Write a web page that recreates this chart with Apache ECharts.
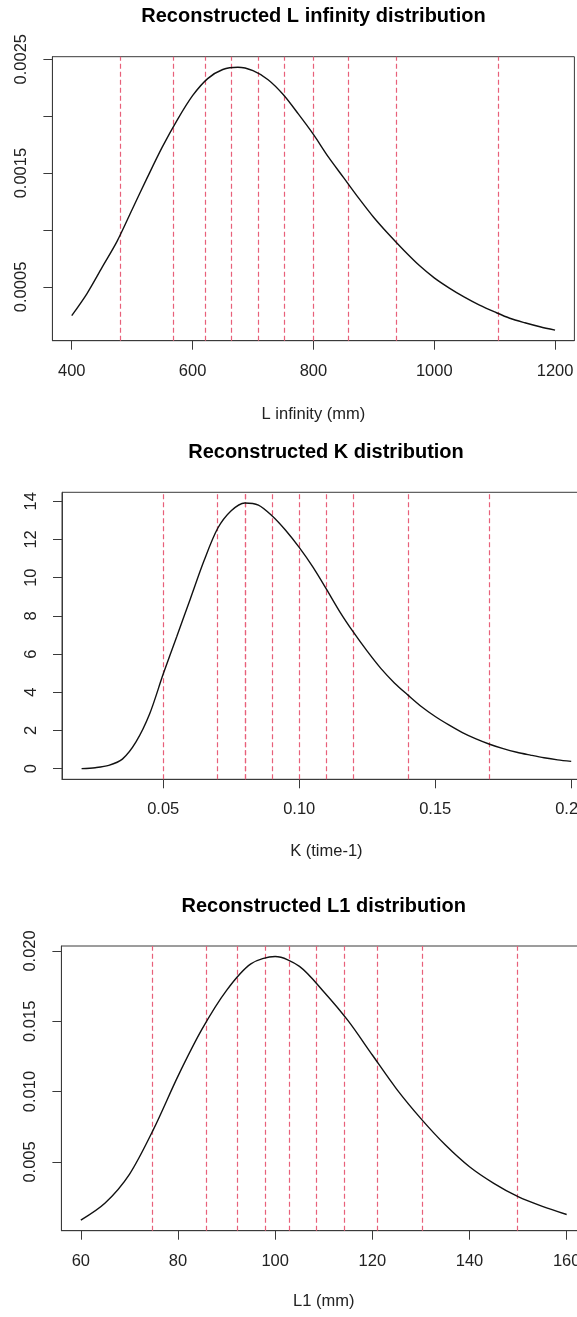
<!DOCTYPE html>
<html>
<head>
<meta charset="utf-8">
<script src="https://cdn.jsdelivr.net/npm/echarts@6/dist/echarts.min.js"></script>
<style>
html,body{margin:0;padding:0;background:#fff;}
#chart{width:577px;height:1317px;}
</style>
</head>
<body>
<div id="chart"></div>
<script>
// ---------- Panel 1: L infinity ----------
const linfTitle = 'Reconstructed L infinity distribution';
const linfAxisName = 'L infinity (mm)';
const linfX = [400,425,450,475,500,525,550,575,600,625,650,675,700,725,750,775,800,825,850,875,900,925,950,975,1000,1025,1050,1075,1100,1125,1150,1175,1200];
const linfY = [0.000248,0.00044,0.00067,0.00090,0.00118,0.00146,0.00173,0.00197,0.00218,0.00233,0.00241,0.00243,0.00240,0.00232,0.00219,0.00202,0.00184,0.00164,0.00146,0.00128,0.00111,0.00096,0.00082,0.00069,0.00058,0.00049,0.00041,0.00034,0.00028,0.000225,0.000185,0.00015,0.00012];
const linfLines = [480.8,567.6,620.4,664.1,708.3,752.2,799.3,857.7,936.9,1105.3];
const linfXTicks = [400,600,800,1000,1200];
const linfYTicks = [0.0005,0.0010,0.0015,0.0020,0.0025];
const linfYLabels = [0.0005,0.0015,0.0025];

// ---------- Panel 2: K ----------
const kTitle = 'Reconstructed K distribution';
const kAxisName = 'K (time-1)';
const kX = [0.020,0.025,0.030,0.035,0.040,0.045,0.050,0.055,0.060,0.065,0.070,0.075,0.080,0.085,0.090,0.095,0.100,0.105,0.110,0.115,0.120,0.125,0.130,0.135,0.140,0.145,0.150,0.155,0.160,0.165,0.170,0.175,0.180,0.185,0.190,0.195,0.200];
const kY = [0.00,0.05,0.17,0.50,1.40,2.86,4.95,6.92,8.9,10.88,12.57,13.5,13.91,13.8,13.24,12.48,11.58,10.56,9.40,8.20,7.13,6.15,5.25,4.49,3.85,3.24,2.73,2.29,1.89,1.56,1.28,1.05,0.86,0.71,0.57,0.46,0.38];
const kLines = [0.0544,0.0680,0.0771,0.0848,0.0926,0.1006,0.1096,0.1202,0.1364,0.1716];
const kXTicks = [0.05,0.10,0.15,0.20];
const kYTicks = [0,2,4,6,8,10,12,14];

// ---------- Panel 3: L1 ----------
const l1Title = 'Reconstructed L1 distribution';
const l1AxisName = 'L1 (mm)';
const l1X = [60,65,70,75,80,85,90,95,100,105,110,115,120,125,130,135,140,145,150,155,160];
const l1Y = [0.00086,0.00208,0.00412,0.00735,0.0111,0.01447,0.0172,0.01908,0.0196,0.0189,0.0171,0.01504,0.0126,0.01018,0.00808,0.00622,0.00466,0.00348,0.00253,0.00184,0.00126];
const l1Lines = [74.7,85.9,92.2,97.9,103.0,108.5,114.2,121.0,130.2,149.9];
const l1XTicks = [60,80,100,120,140,160];
const l1YTicks = [0.005,0.010,0.015,0.020];

// ---------- build ----------
const FONT = "'Liberation Sans', Arial, sans-serif";
const AX = '#3a3a3a';
const TXT = '#222';

function ext(arr){ // R-style 4% range extension
  const lo = Math.min(...arr), hi = Math.max(...arr), s = hi - lo;
  return [lo - 0.04*s, hi + 0.04*s];
}

const panels = [
  {title: linfTitle, name: linfAxisName, x: linfX, y: linfY, lines: linfLines,
   xt: linfXTicks, yt: linfYTicks, yl: linfYLabels, xf: v => String(v), yf: v => v.toFixed(4),
   grid: {left: 52.4, top: 56.7, width: 522, height: 284}, titleX: 313.5, titleTop: 6, nameGap: 65},
  {title: kTitle, name: kAxisName, x: kX, y: kY, lines: kLines,
   xt: kXTicks, yt: kYTicks, yl: kYTicks, xf: v => v.toFixed(2), yf: v => String(v),
   grid: {left: 62, top: 492.3, width: 528.8, height: 287}, titleX: 326, titleTop: 442.5, nameGap: 64},
  {title: l1Title, name: l1AxisName, x: l1X, y: l1Y, lines: l1Lines,
   xt: l1XTicks, yt: l1YTicks, yl: l1YTicks, xf: v => String(v), yf: v => v.toFixed(3),
   grid: {left: 61.4, top: 946, width: 524.7, height: 284.7}, titleX: 323.7, titleTop: 896, nameGap: 62}
];

const option = {
  animation: false,
  backgroundColor: '#fff',
  title: [], grid: [], xAxis: [], yAxis: [], series: []
};

panels.forEach((p, i) => {
  const xr = ext(p.x), yr = ext(p.y);
  option.title.push({
    text: p.title, left: p.titleX, top: p.titleTop, textAlign: 'center', padding: 0,
    textStyle: {fontFamily: FONT, fontWeight: 'bold', fontSize: 20, color: '#000'}
  });
  option.grid.push(Object.assign({show: true, borderColor: AX, borderWidth: 1, backgroundColor: 'transparent',
    containLabel: false, outerBoundsMode: 'none'}, p.grid));
  option.xAxis.push({
    type: 'value', gridIndex: i, min: xr[0], max: xr[1],
    name: p.name, nameLocation: 'middle', nameGap: p.nameGap,
    nameTextStyle: {fontFamily: FONT, fontSize: 16.5, color: TXT},
    axisLine: {show: true, onZero: false, lineStyle: {color: AX, width: 1}},
    axisTick: {show: true, inside: false, length: 9, customValues: p.xt, lineStyle: {color: AX, width: 1}},
    axisLabel: {show: true, margin: 22, customValues: p.xt, formatter: p.xf, fontFamily: FONT, fontSize: 16.5, color: TXT, hideOverlap: false, showMinLabel: true, showMaxLabel: true},
    splitLine: {show: false}
  });
  option.yAxis.push({
    type: 'value', gridIndex: i, min: yr[0], max: yr[1],
    axisLine: {show: true, onZero: false, lineStyle: {color: AX, width: 1}},
    axisTick: {show: true, inside: false, length: 9, customValues: p.yt, lineStyle: {color: AX, width: 1}},
    axisLabel: {show: true, margin: 22, rotate: 90, customValues: p.yl, formatter: p.yf, fontFamily: FONT, fontSize: 16.5, color: TXT, hideOverlap: false},
    splitLine: {show: false}
  });
  option.series.push({
    type: 'line', xAxisIndex: i, yAxisIndex: i, data: [], silent: true,
    markLine: {
      symbol: 'none', silent: true, animation: false,
      label: {show: false},
      lineStyle: {color: '#E8607A', type: [5, 3], width: 1.2, opacity: 1},
      emphasis: {disabled: true},
      data: p.lines.map(v => ({xAxis: v}))
    }
  });
  option.series.push({
    type: 'line', xAxisIndex: i, yAxisIndex: i, z: 5,
    data: p.x.map((xv, j) => [xv, p.y[j]]),
    showSymbol: false, smooth: 0.3, silent: true,
    lineStyle: {color: '#111', width: 1.4}
  });
});

const chart = echarts.init(document.getElementById('chart'), null, {renderer: 'canvas'});
chart.setOption(option);
</script>
</body>
</html>
